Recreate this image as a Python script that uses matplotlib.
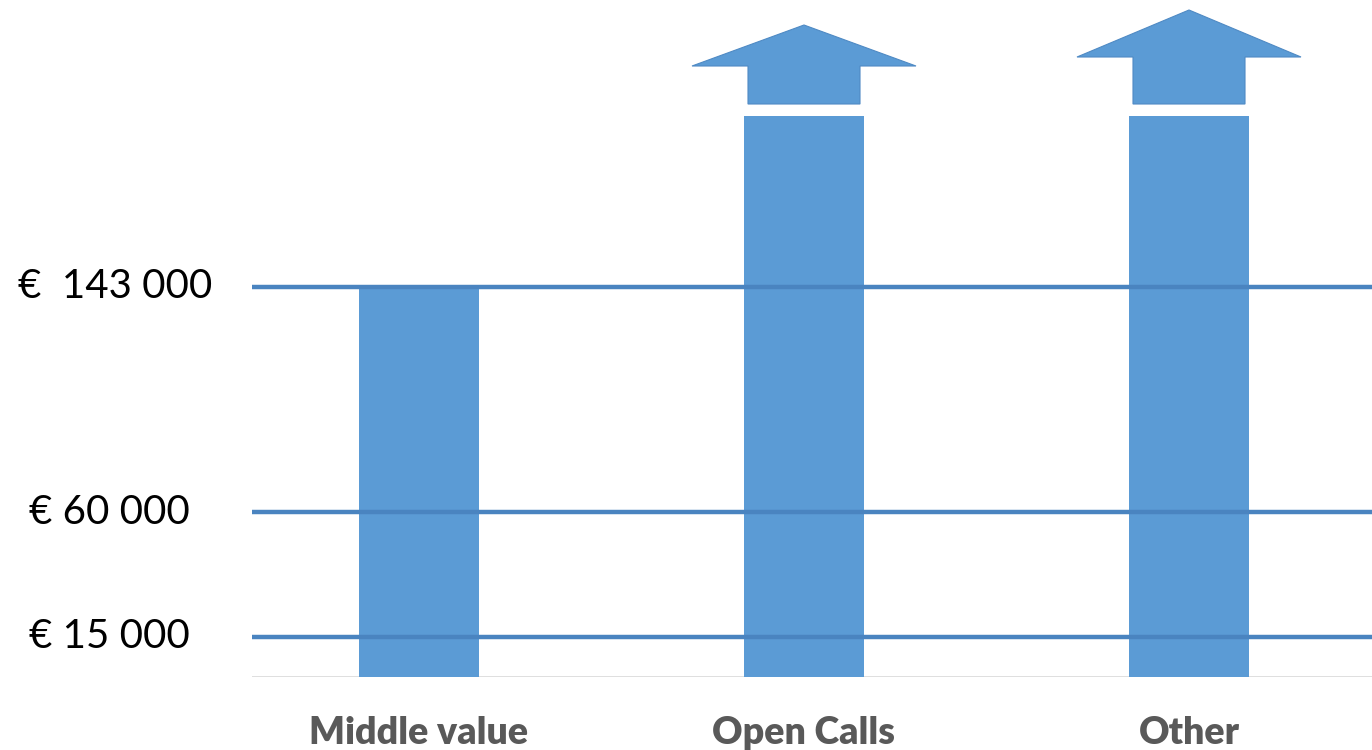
import numpy as np
import matplotlib
matplotlib.use("Agg")
import matplotlib.pyplot as plt
from matplotlib.patches import Polygon
from matplotlib import transforms

# Data
categories = ["Middle value", "Open Calls", "Other"]
# Open Calls / Other exceed the range; drawn up to the top with an arrow
bar_values = [143000, 206000, 206000]
exceeds = [False, True, True]
tick_values = [15000, 60000, 143000]
tick_labels = ["€ 15 000", "€ 60 000", "€  143 000"]

BAR_COLOR = "#5B9BD5"
LINE_COLOR = "#4A84C0"

# piecewise scale (chart is not drawn to a linear scale)
anchor_v = np.array([0, 15000, 60000, 143000, 143000 + 83000 / 225 * 1000])
anchor_p = np.array([0, 40, 165, 390, 1390])


def forward(v):
    return np.interp(v, anchor_v, anchor_p)


def inverse(p):
    return np.interp(p, anchor_p, anchor_v)


fig = plt.figure(figsize=(13.72, 7.5), dpi=100)
ax = fig.add_axes([252 / 1372, 73 / 750, 1120 / 1372, 677 / 750])
ax.set_yscale("function", functions=(forward, inverse))

x = np.arange(len(categories))
ax.bar(x, bar_values, width=0.312, color=BAR_COLOR, zorder=2)

ax.set_xlim(-(419 - 252) / 385, (1372 - 419) / 385)
ax.set_ylim(0, inverse(677))

# grid lines at the thresholds
for v in tick_values:
    ax.axhline(v, color=LINE_COLOR, lw=3.2, zorder=3)
ax.axhline(0, color="#D9D9D9", lw=1.2, zorder=1)

# arrows above the bars that exceed the range
trans = transforms.blended_transform_factory(ax.transData, ax.transAxes)
arrow_tips = {1: 25, 2: 10}
head_base = {1: 66, 2: 57}
for i, flag in enumerate(exceeds):
    if not flag:
        continue
    def fy(px):
        return (677 - px) / 677
    hw = 112 / 385
    sw = 56 / 385
    pts = [
        (i - sw, fy(104)), (i + sw, fy(104)), (i + sw, fy(head_base[i])),
        (i + hw, fy(head_base[i])), (i, fy(arrow_tips[i])),
        (i - hw, fy(head_base[i])), (i - sw, fy(head_base[i])),
    ]
    ax.add_patch(Polygon(pts, closed=True, transform=trans, facecolor=BAR_COLOR,
                         edgecolor="#4F8AC4", lw=0.8, zorder=2, clip_on=False))

# y labels
label_right = {143000: 212, 60000: 190, 15000: 190}
ytrans = transforms.blended_transform_factory(fig.transFigure, ax.transData)
for v, lab in zip(tick_values, tick_labels):
    ax.text(label_right[v] / 1372, v, lab, transform=ytrans, ha="right", va="center",
            fontsize=29, family="Lato", color="black")

# category labels
for xi, cat in zip(x, categories):
    ax.text(xi, -0.082, cat, transform=trans, ha="center", va="center",
            fontsize=27, family="Lato", fontweight="heavy", color="#595959")

ax.set_xticks([])
ax.set_yticks([])
for s in ax.spines.values():
    s.set_visible(False)
ax.patch.set_alpha(0)

fig.savefig("out.png", dpi=100)
